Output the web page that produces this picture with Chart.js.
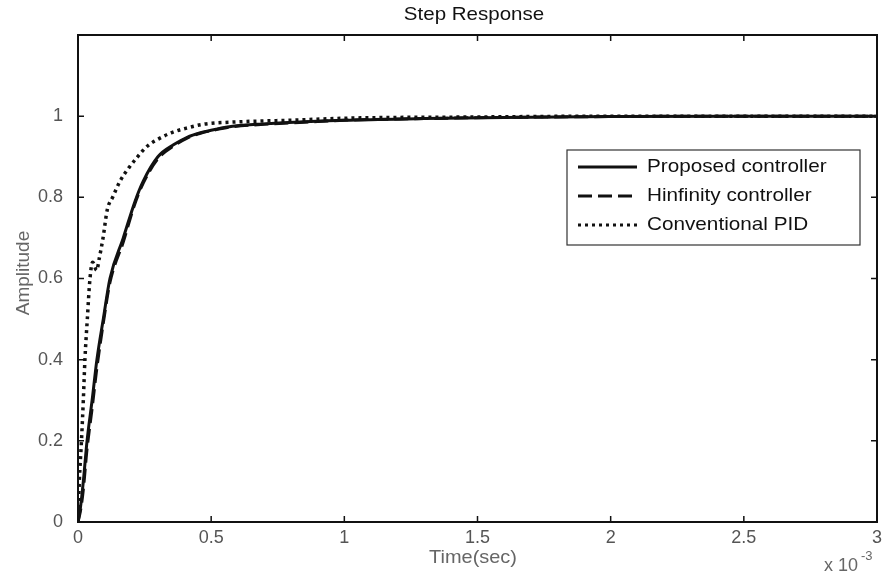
<!DOCTYPE html>
<html>
<head>
<meta charset="utf-8">
<script src="https://cdn.jsdelivr.net/npm/chart.js@4.4.1/dist/chart.umd.min.js"></script>
<style>
  html, body { margin: 0; padding: 0; background: #fff; }
  #wrap { width: 884px; height: 576px; }
</style>
</head>
<body>
<div id="wrap"><canvas id="grafico" width="884" height="576"></canvas></div>
<script>
// tempo em unidades de 10^-3 s
const tempoProposto = [0, 0.01, 0.02, 0.034, 0.053, 0.071, 0.095, 0.12, 0.17, 0.214, 0.245, 0.30, 0.36, 0.41, 0.46, 0.52, 0.58, 0.7, 0.85, 1.0, 1.3, 1.6, 2.0, 2.5, 3.0];
const ampProposto   = [0, 0.04, 0.10, 0.20, 0.30, 0.40, 0.50, 0.60, 0.70, 0.79, 0.84, 0.90, 0.93, 0.948, 0.959, 0.968, 0.975, 0.981, 0.986, 0.99, 0.994, 0.997, 0.999, 1.0, 1.0];
const ampHinf       = [0, 0.03, 0.08, 0.18, 0.28, 0.38, 0.49, 0.59, 0.69, 0.785, 0.835, 0.895, 0.927, 0.946, 0.958, 0.967, 0.974, 0.98, 0.985, 0.99, 0.994, 0.997, 0.999, 1.0, 1.0];

const tempoPID = [0, 0.005, 0.013, 0.02, 0.026, 0.035, 0.045, 0.055, 0.07, 0.08, 0.094, 0.11, 0.13, 0.158, 0.19, 0.22, 0.26, 0.30, 0.35, 0.41, 0.47, 0.6, 0.8, 1.0, 1.5, 2.0, 3.0];
const ampPID   = [0, 0.10, 0.20, 0.30, 0.40, 0.50, 0.60, 0.64, 0.62, 0.65, 0.70, 0.77, 0.80, 0.84, 0.872, 0.897, 0.926, 0.943, 0.959, 0.971, 0.98, 0.986, 0.99, 0.995, 0.998, 1.0, 1.0];

const legendas = ['Proposed controller', 'Hinfinity controller', 'Conventional PID'];
const ticksX = [0, 0.5, 1, 1.5, 2, 2.5, 3];
const ticksY = [0, 0.2, 0.4, 0.6, 0.8, 1, 1.2];

const pontos = (xs, ys) => xs.map((x, i) => ({ x: x, y: ys[i] }));

const fonte = '"Liberation Sans", Arial, sans-serif';

// texto levemente esticado na horizontal, como no scan original
function texto(ctx, s, x, y, esticar) {
    ctx.save();
    ctx.translate(x, y);
    ctx.scale(esticar, 1);
    ctx.fillText(s, 0, 0);
    ctx.restore();
}

// desenha moldura, ticks internos, titulos e legenda
const molduraPlugin = {
    id: 'moldura',
    afterDraw(chart) {
        const ctx = chart.ctx;
        const a = chart.chartArea;
        const sx = chart.scales.x;
        const sy = chart.scales.y;
        ctx.save();

        ctx.strokeStyle = '#111';
        ctx.lineWidth = 2;
        ctx.strokeRect(a.left, a.top, a.right - a.left, a.bottom - a.top);

        ctx.lineWidth = 1.5;
        ctx.beginPath();
        ticksX.forEach(v => {
            const px = sx.getPixelForValue(v);
            ctx.moveTo(px, a.bottom); ctx.lineTo(px, a.bottom - 6);
            ctx.moveTo(px, a.top); ctx.lineTo(px, a.top + 6);
        });
        ticksY.forEach(v => {
            const py = sy.getPixelForValue(v);
            ctx.moveTo(a.left, py); ctx.lineTo(a.left + 6, py);
            ctx.moveTo(a.right, py); ctx.lineTo(a.right - 6, py);
        });
        ctx.stroke();

        // titulo
        ctx.fillStyle = '#111';
        ctx.font = '19px ' + fonte;
        ctx.textAlign = 'center';
        ctx.textBaseline = 'middle';
        texto(ctx, 'Step Response', 474, 15, 1.08);

        // eixos
        ctx.fillStyle = '#666';
        texto(ctx, 'Time(sec)', 473, 558, 1.05);
        ctx.save();
        ctx.translate(24, 273);
        ctx.rotate(-Math.PI / 2);
        ctx.fillText('Amplitude', 0, 0);
        ctx.restore();

        ctx.textAlign = 'left';
        ctx.font = '18px ' + fonte;
        ctx.fillText('x 10', 824, 566);
        ctx.font = '13px ' + fonte;
        ctx.fillText('-3', 861, 556);

        // legenda
        const lx = 567, ly = 150, lw = 293, lh = 95;
        ctx.fillStyle = '#fff';
        ctx.fillRect(lx, ly, lw, lh);
        ctx.strokeStyle = '#333';
        ctx.lineWidth = 1.2;
        ctx.strokeRect(lx, ly, lw, lh);
        const linhas = [167, 196, 225];
        chart.data.datasets.forEach((ds, i) => {
            ctx.strokeStyle = ds.borderColor;
            ctx.lineWidth = 3;
            ctx.setLineDash(ds.borderDash || []);
            ctx.beginPath();
            ctx.moveTo(578, linhas[i]);
            ctx.lineTo(637, linhas[i]);
            ctx.stroke();
            ctx.setLineDash([]);
            ctx.fillStyle = '#111';
            ctx.font = '19px ' + fonte;
            ctx.textAlign = 'left';
            texto(ctx, ds.label, 647, linhas[i], 1.09);
        });
        ctx.restore();
    }
};

const ctx = document.getElementById('grafico').getContext('2d');

new Chart(ctx, {
    type: 'line',
    data: {
        datasets: [
            {
                label: legendas[0],
                data: pontos(tempoProposto, ampProposto),
                borderColor: '#111',
                borderWidth: 3,
                pointRadius: 0,
                cubicInterpolationMode: 'monotone'
            },
            {
                label: legendas[1],
                data: pontos(tempoProposto, ampHinf),
                borderColor: '#111',
                borderWidth: 3,
                borderDash: [14, 6],
                pointRadius: 0,
                cubicInterpolationMode: 'monotone'
            },
            {
                label: legendas[2],
                data: pontos(tempoPID, ampPID),
                borderColor: '#111',
                borderWidth: 3.5,
                borderDash: [3, 4],
                pointRadius: 0,
                cubicInterpolationMode: 'monotone'
            }
        ]
    },
    options: {
        responsive: false,
        animation: false,
        layout: { padding: { top: 35, right: 7, left: 0, bottom: 0 } },
        plugins: {
            legend: { display: false },
            tooltip: { enabled: false }
        },
        scales: {
            x: {
                type: 'linear',
                min: 0,
                max: 3,
                afterFit: (s) => { s.height = 54; s.paddingLeft = 0; s.paddingRight = 0; },
                afterBuildTicks: (s) => { s.ticks = ticksX.map(v => ({ value: v })); },
                grid: { display: false },
                border: { display: false },
                ticks: {
                    color: '#555',
                    padding: -3,
                    maxRotation: 0,
                    autoSkip: false,
                    font: { family: fonte, size: 18 },
                    callback: (v) => String(v)
                }
            },
            y: {
                min: 0,
                max: 1.2,
                afterFit: (s) => { s.width = 78; s.paddingTop = 0; s.paddingBottom = 0; },
                afterBuildTicks: (s) => { s.ticks = ticksY.map(v => ({ value: v })); },
                grid: { display: false },
                border: { display: false },
                ticks: {
                    color: '#555',
                    padding: 7,
                    autoSkip: false,
                    font: { family: fonte, size: 18 },
                    callback: (v) => v > 1.1 ? '' : String(Math.round(v * 10) / 10)
                }
            }
        }
    },
    plugins: [molduraPlugin]
});
</script>
</body>
</html>
